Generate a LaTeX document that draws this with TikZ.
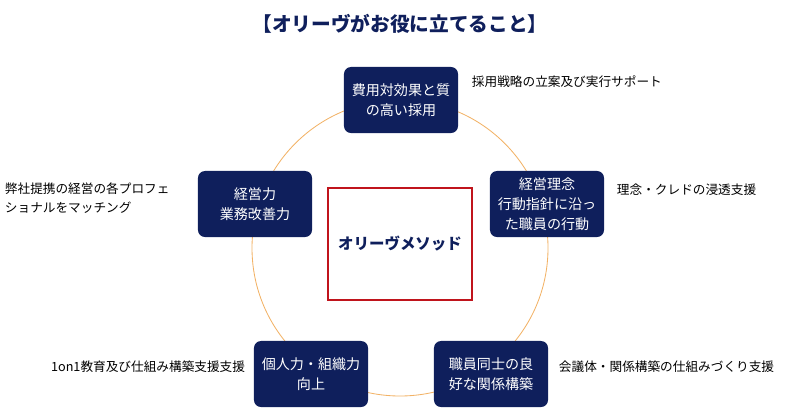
\documentclass[tikz,border=0pt]{standalone}
\usepackage{fontspec}
\setmainfont{Noto Sans CJK JP}
\usetikzlibrary{positioning}
\definecolor{navy}{HTML}{0F1F5C}
\definecolor{ringorange}{HTML}{F2B266}
\definecolor{methodred}{HTML}{C0141C}

\begin{document}
\begin{tikzpicture}[x=0.025cm, y=-0.025cm,
    role/.style={rectangle, draw=none, fill=navy, rounded corners=5pt, text=white, minimum width=2.85cm, minimum height=1.65cm, align=center, font=\fontsize{10}{14}\selectfont},
    note/.style={font=\fontsize{9}{13}\selectfont, text=black, align=left},
    method/.style={rectangle, draw=methodred, line width=1.2pt, fill=white, minimum width=3.6cm, minimum height=2.8cm, font=\bfseries\fontsize{11}{14}\selectfont, text=navy}
]

\useasboundingbox (0,0) rectangle (800,415);

% Title
\node[font=\bfseries\fontsize{14}{16}\selectfont, text=navy] (title) at (400,24) {【オリーヴがお役に立てること】};

% Ring
\draw[ringorange, line width=0.6pt] (400,248) circle (148);

% Roles
\node[role] (hire) at (401,100) {費用対効果と質\\の高い採用};
\node[role] (vision) at (547,204) {経営理念\\行動指針に沿っ\\た職員の行動};
\node[role] (relation) at (491,374) {職員同士の良\\好な関係構築};
\node[role] (person) at (311,374) {個人力・組織力\\向上};
\node[role] (manage) at (255,204) {経営力\\業務改善力};

% Method
\node[method] (core) at (400,244) {オリーヴメソッド};

% Notes
\node[note, anchor=west] (hirenote) at (467,82) {採用戦略の立案及び実行サポート};
\node[note, anchor=west] (visionnote) at (612,190) {理念・クレドの浸透支援};
\node[note, anchor=west] (relationnote) at (554,367) {会議体・関係構築の仕組みづくり支援};
\node[note, anchor=east] (personnote) at (250,367) {1on1教育及び仕組み構築支援支援};
\node[note, anchor=west] (managenote) at (0,198) {弊社提携の経営の各プロフェ\\ショナルをマッチング};

\end{tikzpicture}
\end{document}
